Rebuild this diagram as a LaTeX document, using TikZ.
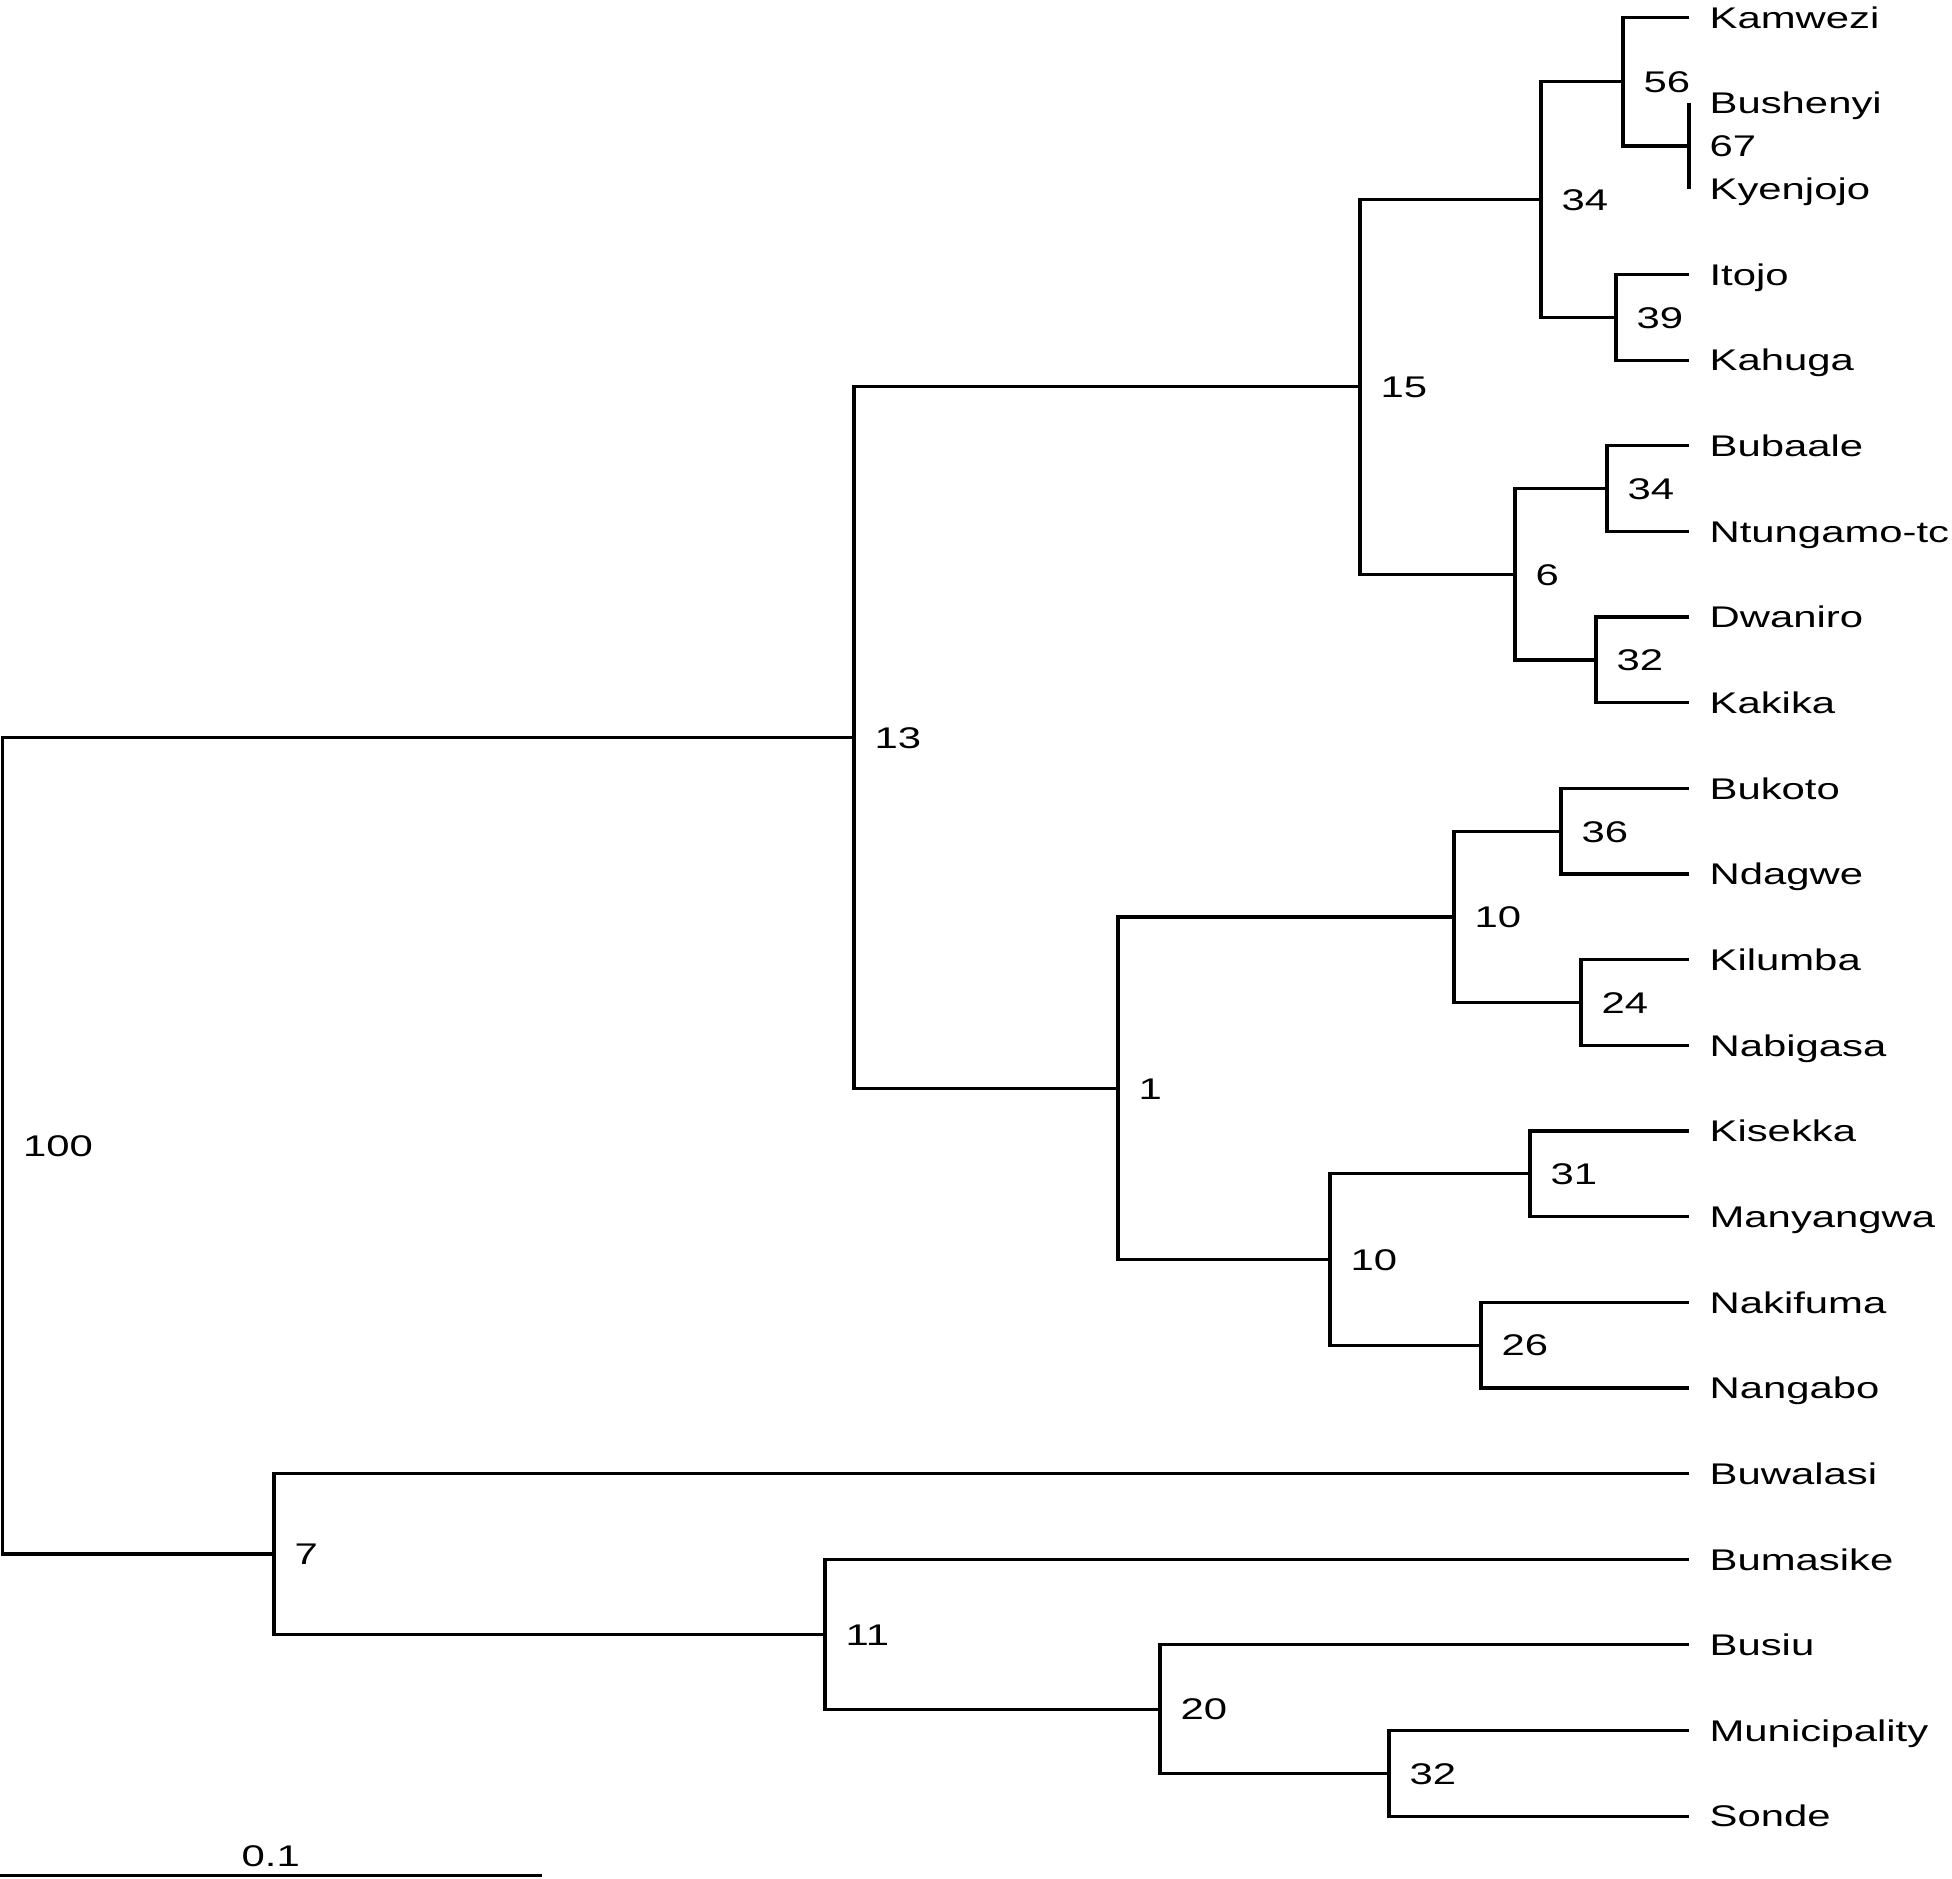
\documentclass[tikz,border=0pt]{standalone}
\usepackage{fontspec}
\setmainfont{Liberation Sans}
\newcommand{\wide}[1]{\scalebox{1.40}[1]{#1}}
\begin{document}
\begin{tikzpicture}[x=0.01cm, y=-0.01cm, line width=0.9pt,
    lbl/.style={anchor=base west, inner sep=0pt, font=\fontsize{8.5}{10}\selectfont}]
    \useasboundingbox (0,0) rectangle (1952,1878);
    % leaves
    \foreach \name [count=\i from 0] in {Kamwezi, Bushenyi, Kyenjojo, Itojo, Kahuga, Bubaale, Ntungamo-tc, Dwaniro, Kakika, Bukoto, Ndagwe, Kilumba, Nabigasa, Kisekka, Manyangwa, Nakifuma, Nangabo, Buwalasi, Bumasike, Busiu, Municipality, Sonde}{
      \coordinate (t\i) at (1689, {17.5+85.65*\i});
      \node[lbl] (l\i) at (1708, {28.3+85.65*\i}) {\wide{\name}};
    }
    % inner nodes with bootstrap values
    \foreach \n/\x/\y/\b in {n67/1689/146.0/67, n56/1623/81.8/56, n39/1616/317.3/39, n34a/1541/199.5/34,
      n34b/1607/488.6/34, n32a/1596/659.9/32, n6/1515/574.3/6, n15/1360/386.9/15,
      n36/1561/831.2/36, n24/1581/1002.5/24, n10a/1454/916.9/10, n31/1530/1173.8/31,
      n26/1481/1345.1/26, n10b/1330/1259.5/10, n1/1118/1088.2/1, n13/854/737.5/13,
      n32b/1389/1773.4/32, n20/1160/1709.1/20, n11/825/1634.2/11, n7/274/1553.9/7, root/2.5/1145.7/100}{
      \coordinate (\n) at (\x,\y);
      \node[lbl] (b\n) at (\x+19, \y+10.8) {\wide{\b}};
    }
    \foreach \p/\c in {n67/t1, n67/t2, n56/t0, n56/n67, n34a/n56, n34a/n39, n39/t3, n39/t4,
      n15/n34a, n15/n6, n6/n34b, n6/n32a, n34b/t5, n34b/t6, n32a/t7, n32a/t8,
      n13/n15, n13/n1, n1/n10a, n1/n10b, n10a/n36, n10a/n24, n36/t9, n36/t10, n24/t11, n24/t12,
      n10b/n31, n10b/n26, n31/t13, n31/t14, n26/t15, n26/t16,
      root/n13, root/n7, n7/t17, n7/n11, n11/t18, n11/n20, n20/t19, n20/n32b, n32b/t20, n32b/t21}{
      \draw (\p) |- (\c);
    }
    % scale bar
    \coordinate (s0) at (0,1875.5);
    \coordinate (s1) at (541.5,1875.5);
    \draw (s0) -- (s1);
    \node[lbl, anchor=base] (sl) at (270.7,1866.7) {\wide{0.1}};
  \end{tikzpicture}
\end{document}
